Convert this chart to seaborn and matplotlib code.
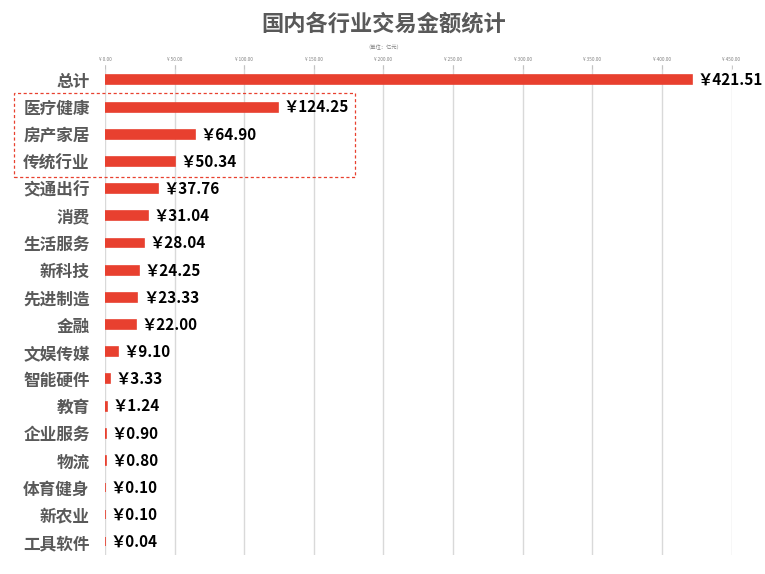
import matplotlib
matplotlib.use("Agg")
import matplotlib.pyplot as plt
import matplotlib.patches as patches
import seaborn as sns
import pandas as pd

# data (unit: 100 million yuan)
industries = ["总计", "医疗健康", "房产家居", "传统行业", "交通出行", "消费", "生活服务",
              "新科技", "先进制造", "金融", "文娱传媒", "智能硬件", "教育", "企业服务",
              "物流", "体育健身", "新农业", "工具软件"]
amounts = [421.51, 124.25, 64.90, 50.34, 37.76, 31.04, 28.04, 24.25, 23.33, 22.00,
           9.10, 3.33, 1.24, 0.90, 0.80, 0.10, 0.10, 0.04]
xticks = [0, 50, 100, 150, 200, 250, 300, 350, 400, 450]

df = pd.DataFrame({"industry": industries, "amount": amounts})

sns.set_theme(style="white")
plt.rcParams['font.family'] = ['Noto Sans CJK SC', 'DejaVu Sans']

bar_color = "#E8402F"
gray = "#595959"

fig = plt.figure(figsize=(7.65, 5.74), dpi=100)
ax = fig.add_axes([105 / 765, 1 - 555 / 574, (731.5 - 105) / 765, (555 - 65) / 574])

sns.barplot(data=df, x="amount", y="industry", orient="h", color=bar_color,
            width=0.33, edgecolor=bar_color, linewidth=1.2, saturation=1, ax=ax, zorder=3)

ax.set_xlim(0, 450)
ax.set_ylim(17.48, -0.55)
ax.set_xticks(xticks)
ax.set_xticklabels(["¥ %.2f" % t for t in xticks], fontsize=3.4, color="#808080")
ax.xaxis.tick_top()
ax.tick_params(axis="x", direction="in", length=3, width=0.6, color="#BFBFBF", pad=2, top=True)
ax.grid(axis="x", color="#D9D9D9", linewidth=1.0, zorder=0)
for s in ax.spines.values():
    s.set_visible(False)
ax.set_xlabel("")
ax.set_ylabel("")
ax.tick_params(axis="y", length=0, pad=11)
for lbl in ax.get_yticklabels():
    lbl.set_fontsize(12)
    lbl.set_fontweight("bold")
    lbl.set_color(gray)

# value labels
for i, v in enumerate(amounts):
    ax.text(v + 4.0, i, "￥%.2f" % v, va="center", ha="left", fontsize=11,
            fontweight="bold", color="black", clip_on=False)

# title and unit
fig.text(384 / 765, 1 - 24 / 574, "国内各行业交易金额统计", ha="center", va="center",
         fontsize=16, fontweight="bold", color=gray)
fig.text(384 / 765, 1 - 47 / 574, "（单位：亿元）", ha="center", va="center",
         fontsize=3.8, color="#808080")

# dashed highlight box
rect = patches.Rectangle((14 / 765, 1 - 177 / 574), (355 - 14) / 765, (177 - 93) / 574,
                         transform=fig.transFigure, fill=False, edgecolor="#E8402F",
                         linestyle=(0, (2.5, 2)), linewidth=0.9)
fig.patches.append(rect)

fig.savefig("out.png", dpi=100)
